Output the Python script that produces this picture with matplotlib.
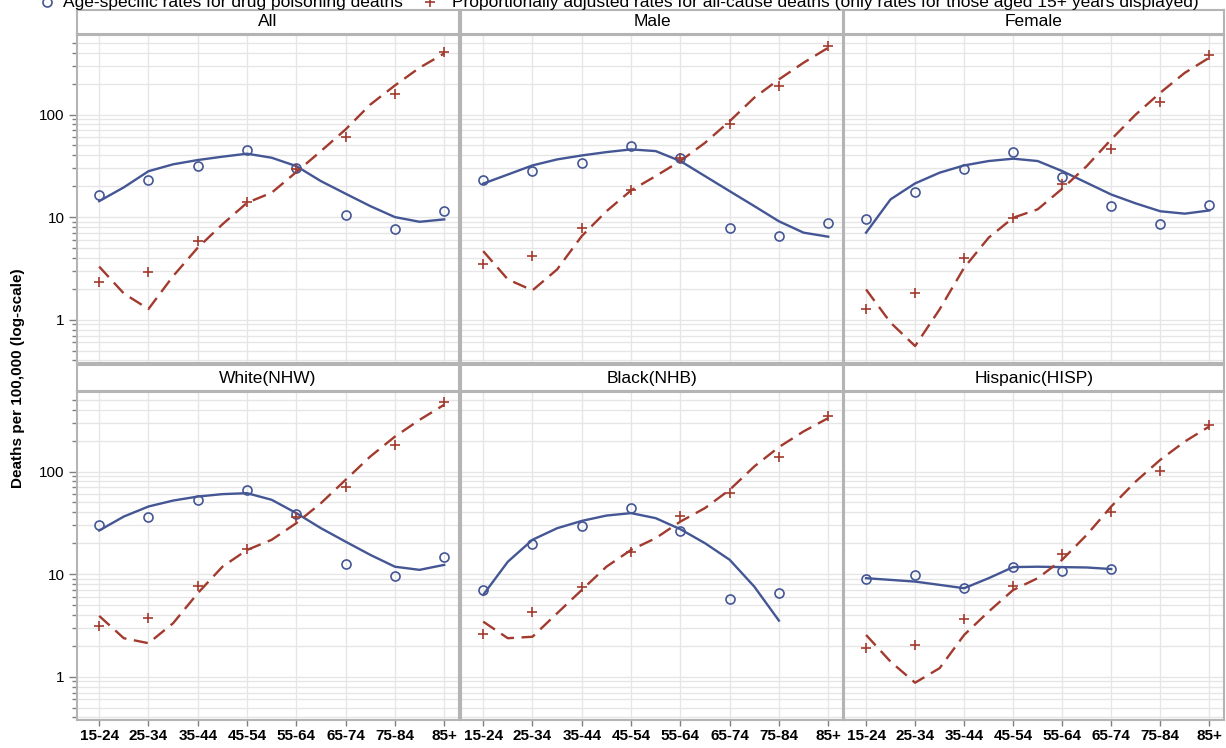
import numpy as np
import matplotlib
matplotlib.use("Agg")
import matplotlib.pyplot as plt
from matplotlib.lines import Line2D
from matplotlib.ticker import LogLocator, FixedLocator, NullFormatter, FuncFormatter

plt.rcParams["font.family"] = ["Liberation Sans", "DejaVu Sans"]

AGE_GROUPS = ["15-24", "25-34", "35-44", "45-54", "55-64", "65-74", "75-84", "85+"]
PANEL_TITLES = ["All", "Male", "Female", "White(NHW)", "Black(NHB)", "Hispanic(HISP)"]

# knots of the fitted curves, in age-group units
FIT_X = [0, 0.5, 1, 1.5, 2, 2.5, 3, 3.5, 4, 4.5, 5, 5.5, 6, 6.5, 7]

nan = np.nan

# age-specific drug poisoning death rates (per 100,000)
drug_all = [16.4, 22.8, 31.2, 45.4, 30.3, 10.5, 7.6, 11.4]
drug_male = [23.2, 28.1, 33.4, 48.9, 37.3, 7.76, 6.53, 8.82]
drug_female = [9.5, 17.5, 29.6, 43.0, 24.5, 12.8, 8.49, 13.1]
drug_white = [30.2, 36.1, 53.3, 66.7, 38.7, 12.5, 9.67, 14.6]
drug_black = [7.0, 19.6, 29.3, 44.2, 26.2, 5.73, 6.6, nan]
drug_hisp = [8.98, 9.75, 7.28, 11.8, 10.8, 11.2, nan, nan]

# proportionally adjusted all-cause death rates
adj_all = [2.35, 2.94, 5.83, 14.0, 29.2, 60.8, 160, 409]
adj_male = [3.51, 4.17, 7.76, 18.2, 37.9, 80, 189, 464]
adj_female = [1.28, 1.80, 3.98, 9.86, 21.2, 46.4, 132, 377]
adj_white = [3.14, 3.71, 7.67, 17.7, 35.9, 71.4, 181, 471]
adj_black = [2.63, 4.25, 7.45, 16.4, 37.0, 61.5, 138, 349]
adj_hisp = [1.89, 2.04, 3.63, 7.72, 15.6, 40.2, 102, 286]

# smoothed fits for drug poisoning rates
drug_fit_all = [14.3, 19.5, 28.0, 32.7, 36.0, 38.8, 41.5, 37.9, 31.4, 22.4, 16.9, 12.8, 10.0, 9.0, 9.5]
drug_fit_male = [21.2, 26.0, 31.9, 36.5, 39.9, 43.0, 45.7, 44.0, 35.2, 25.1, 17.9, 12.8, 9.1, 7.05, 6.44]
drug_fit_female = [7.05, 14.9, 21.3, 27.1, 31.9, 35.2, 37.1, 35.2, 28.1, 21.6, 16.6, 13.6, 11.4, 10.8, 11.6]
drug_fit_white = [26.6, 36.4, 45.6, 52.1, 57.0, 60.2, 61.5, 53.0, 39.3, 28.0, 20.7, 15.4, 11.8, 11.0, 12.3]
drug_fit_black = [6.27, 13.2, 21.6, 28.0, 33.0, 37.2, 39.3, 35.1, 27.4, 20.0, 13.8, 7.55, 3.52, nan, nan]
drug_fit_hisp = [9.12, 8.78, 8.45, 7.85, 7.28, 9.12, 11.7, 11.8, 11.7, 11.6, 11.2, nan, nan, nan, nan]

# smoothed fits for adjusted all-cause rates
adj_fit_all = [3.29, 1.8, 1.27, 2.66, 5.03, 8.5, 13.8, 17.3, 27.5, 44, 71.6, 125, 192, 286, 394]
adj_fit_male = [4.66, 2.47, 1.93, 3.09, 6.53, 11.4, 18.2, 25.1, 35.2, 53, 86, 146, 220, 320, 448]
adj_fit_female = [1.97, 0.935, 0.553, 1.26, 3.21, 6.3, 9.86, 11.9, 18.9, 31.4, 57.2, 100, 163, 255, 358]
adj_fit_white = [3.91, 2.37, 2.12, 3.32, 6.51, 11.8, 17.2, 21.6, 31.4, 49.2, 83, 140, 219, 319, 448]
adj_fit_black = [3.44, 2.37, 2.45, 4.15, 7.0, 11.8, 17.2, 22.4, 32.5, 44, 66.3, 112, 173, 246, 332]
adj_fit_hisp = [2.55, 1.40, 0.873, 1.21, 2.55, 4.31, 7.0, 9.12, 13.8, 24.1, 45.6, 80, 130, 196, 275]

panels = [
    (drug_all, adj_all, drug_fit_all, adj_fit_all),
    (drug_male, adj_male, drug_fit_male, adj_fit_male),
    (drug_female, adj_female, drug_fit_female, adj_fit_female),
    (drug_white, adj_white, drug_fit_white, adj_fit_white),
    (drug_black, adj_black, drug_fit_black, adj_fit_black),
    (drug_hisp, adj_hisp, drug_fit_hisp, adj_fit_hisp),
]

BLUE = "#445694"
RED = "#A23A2E"
GRID = "#e6e6e6"
FRAME = "#b4b4b4"

W, H = 1226, 748
fig = plt.figure(figsize=(W / 100, H / 100), dpi=100)


def px_axes(left, top, width, height):
    return fig.add_axes([left / W, 1 - (top + height) / H, width / W, height / H])


col_left = [77, 461, 844]
col_width = [382, 382, 380]
row_top = [35, 392]
row_height = 328
head_top = [10, 365]
head_height = [24, 26]

x = np.arange(len(AGE_GROUPS))

for i, (drug, adj, drug_fit, adj_fit) in enumerate(panels):
    r, c = divmod(i, 3)

    # header strip with the panel title
    hax = px_axes(col_left[c], head_top[r], col_width[c], head_height[r])
    hax.set_xticks([])
    hax.set_yticks([])
    for s in hax.spines.values():
        s.set_color(FRAME)
        s.set_linewidth(1.5)
    hax.text(0.5, 0.5, PANEL_TITLES[i], ha="center", va="center", fontsize=12.5,
             transform=hax.transAxes)

    ax = px_axes(col_left[c], row_top[r], col_width[c], row_height)
    ax.set_yscale("log")
    ax.set_xlim(-0.45, 7.3)
    ax.set_ylim(0.378, 596)

    ax.yaxis.set_major_locator(LogLocator(base=10, numticks=10))
    ax.yaxis.set_minor_locator(LogLocator(base=10, subs=np.arange(2, 10), numticks=10))
    ax.yaxis.set_minor_formatter(NullFormatter())
    ax.yaxis.set_major_formatter(FuncFormatter(lambda v, p: f"{v:g}"))
    ax.xaxis.set_major_locator(FixedLocator(x))

    ax.grid(True, which="major", color=GRID, linewidth=1.0, zorder=0)
    ax.grid(True, which="minor", axis="y", color=GRID, linewidth=1.0, zorder=0)
    ax.set_axisbelow(True)

    for s in ax.spines.values():
        s.set_color(FRAME)
        s.set_linewidth(1.5)

    ax.plot(FIT_X, drug_fit, color=BLUE, linewidth=1.7, zorder=3)
    ax.plot(FIT_X, adj_fit, color=RED, linewidth=1.7, dashes=(6, 3.2), zorder=3)
    ax.plot(x, drug, linestyle="none", marker="o", markersize=6.5, markerfacecolor="none",
            markeredgecolor=BLUE, markeredgewidth=1.2, zorder=4)
    ax.plot(x, adj, linestyle="none", marker="+", markersize=7.5,
            markeredgecolor=RED, markeredgewidth=1.2, zorder=4)

    if c == 0:
        ax.tick_params(axis="y", which="major", length=6, width=1, color="#808080",
                       labelsize=11, pad=3, direction="out")
        ax.tick_params(axis="y", which="minor", length=3.5, width=1, color="#808080",
                       direction="out")
    else:
        ax.tick_params(axis="y", which="both", left=False, labelleft=False)

    if r == 1:
        ax.set_xticklabels(AGE_GROUPS, fontweight="bold", fontsize=11)
        ax.tick_params(axis="x", length=4.5, width=1, color="#808080", pad=2)
    else:
        ax.tick_params(axis="x", bottom=False, labelbottom=False)

fig.text(18 / W, 1 - 378 / H, "Deaths per 100,000 (log-scale)", rotation=90,
         ha="center", va="center", fontsize=11, fontweight="bold")

# legend row along the top edge
leg_y = 1 - 2 / H
fig.add_artist(Line2D([47 / W], [leg_y], transform=fig.transFigure, marker="o",
                      markersize=6.5, markerfacecolor="none", markeredgecolor=BLUE,
                      markeredgewidth=1.2))
fig.text(63 / W, leg_y, "Age-specific rates for drug poisoning deaths",
         ha="left", va="center", fontsize=12.5)
fig.add_artist(Line2D([430 / W], [leg_y], transform=fig.transFigure, marker="+",
                      markersize=7.5, markeredgecolor=RED, markeredgewidth=1.2))
fig.text(452 / W, leg_y,
         "Proportionally adjusted rates for all-cause deaths (only rates for those aged 15+ years displayed)",
         ha="left", va="center", fontsize=12.5)

fig.savefig("out.png", dpi=100)
